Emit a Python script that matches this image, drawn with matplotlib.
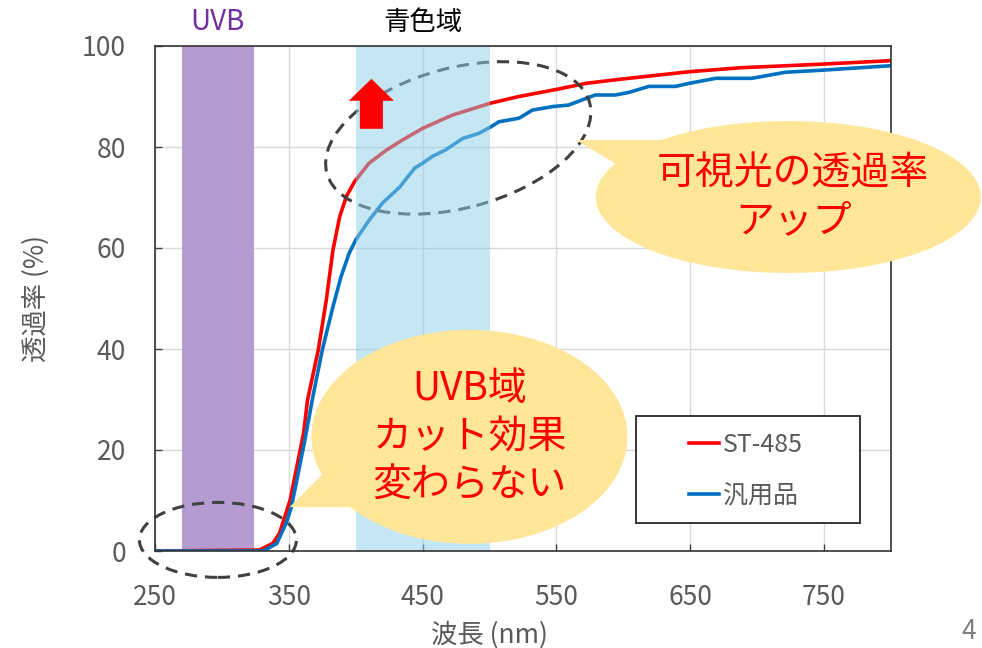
import matplotlib
matplotlib.use('Agg')
import matplotlib.pyplot as plt
from matplotlib.patches import Ellipse, Polygon, Rectangle, FancyArrowPatch, ArrowStyle
from matplotlib.transforms import IdentityTransform

plt.rcParams['font.family'] = ['Noto Sans CJK JP', 'DejaVu Sans']

# wavelength (nm) / transmittance (%)
st485_nm = [250, 328, 338, 343, 347, 351, 356, 361, 364, 372, 378, 383, 388, 393, 399,
            410, 423, 435, 450, 472, 501, 522, 550, 572, 597, 649, 688, 748, 800]
st485_pct = [0, 0.2, 1.5, 3.5, 6.8, 10.1, 16.7, 23.3, 29.9, 39.8, 49.7, 59.6, 66.2, 70.2, 73.1,
             76.8, 79.4, 81.4, 83.7, 86.3, 88.7, 90.0, 91.4, 92.6, 93.4, 94.9, 95.7, 96.4, 97.1]

generic_nm = [250, 331, 341, 348, 352, 357, 362, 368, 375, 383, 389, 395, 400, 410, 420, 433,
              444, 450, 457, 467, 480, 492, 501, 507, 522, 532, 547, 559, 572, 579, 594,
              604, 619, 639, 649, 669, 696, 721, 748, 800]
generic_pct = [0, 0, 1.5, 5.5, 8.8, 15.4, 22.0, 30.6, 39.8, 48.4, 54.3, 58.9, 61.6, 65.5, 68.9, 72.1,
               75.8, 76.8, 78.1, 79.4, 81.7, 82.7, 84.0, 85.0, 85.7, 87.3, 88.0, 88.3, 89.6, 90.3, 90.3,
               90.8, 92.0, 92.0, 92.6, 93.6, 93.6, 94.8, 95.2, 96.1]

series_names = ['ST-485', '汎用品']
series_colors = ['#FF0000', '#0070C0']
uvb_band = (270, 324)
blue_band = (400, 500)
x_ticks = [250, 350, 450, 550, 650, 750]
y_ticks = [0, 20, 40, 60, 80, 100]

W, H = 982, 648
fig = plt.figure(figsize=(W / 100, H / 100), dpi=100)
ax = fig.add_axes([155 / W, 97 / H, 736 / W, 505 / H])
ax.set_xlim(250, 800)
ax.set_ylim(0, 100)
ax.set_xticks(x_ticks)
ax.set_yticks(y_ticks)
ax.grid(color='#D9D9D9', lw=1)
ax.set_axisbelow(True)

ax.axvspan(*uvb_band, color='#B49BD0', lw=0, zorder=1)
ax.plot(st485_nm, st485_pct, color=series_colors[0], lw=2.6, label=series_names[0], zorder=2)
ax.plot(generic_nm, generic_pct, color=series_colors[1], lw=2.6, label=series_names[1], zorder=2)


def to_px(x, y):
    return ax.transData.transform((x, y))


# dashed ellipses (center in data, size in px)
for (cx, cy), w, h, ang in [((297, 2.2), 157, 75, 0), ((476.6, 81.8), 272, 140, 15)]:
    ax.add_patch(Ellipse(to_px(cx, cy), w, h, angle=ang, transform=IdentityTransform(),
                         fill=False, ec='#404040', lw=2.2, ls=(0, (4, 2.6)),
                         zorder=2.5, clip_on=False))

ax.axvspan(*blue_band, color='#8DD1EB', alpha=0.5, lw=0, zorder=3)

# speech bubbles
bubble_color = '#FFE699'
bubbles = [
    ((485, 22.6), 316, 214, [(350.6, 8.7), (384.1, 17.6), (410.2, 8.7)]),
    ((723.2, 70.1), 385, 152, [(564.5, 81.4), (633.8, 81.4), (611.5, 73.9)]),
]
for (cx, cy), w, h, tip in bubbles:
    ax.add_patch(Ellipse(to_px(cx, cy), w, h, transform=IdentityTransform(),
                         fc=bubble_color, ec='none', zorder=4, clip_on=False))
    ax.add_patch(Polygon([to_px(*p) for p in tip], closed=True, transform=IdentityTransform(),
                         fc=bubble_color, ec='none', zorder=4, clip_on=False))

ax.text(485, 22.6, 'UVB域\nカット効果\n変わらない', ha='center', va='center',
        fontsize=28, color='#FF0000', linespacing=1.25, zorder=5)
ax.text(727, 70.1, '可視光の透過率\nアップ', ha='center', va='center',
        fontsize=28, color='#FF0000', linespacing=1.25, zorder=5, clip_on=False)

ax.add_patch(FancyArrowPatch((411.7, 83.6), (411.7, 93.5),
                             arrowstyle=ArrowStyle.Simple(head_length=15.8, head_width=32.4, tail_width=16.6),
                             mutation_scale=1, color='#FF0000', lw=0, shrinkA=0, shrinkB=0, zorder=5))

# band labels above the plot
ax.text(sum(uvb_band) / 2, 1.047, 'UVB', transform=ax.get_xaxis_transform(),
        ha='center', va='center', fontsize=20, color='#7030A0')
ax.text(sum(blue_band) / 2, 1.047, '青色域', transform=ax.get_xaxis_transform(),
        ha='center', va='center', fontsize=19, color='#000000')

# legend
ax.add_patch(Rectangle((0.6535, 0.0554), 0.3043, 0.212, transform=ax.transAxes,
                       fc='white', ec='#262626', lw=1.3, zorder=6))
leg = ax.legend(frameon=False, loc='center', bbox_to_anchor=((746 - 155) / 736, (551 - 470) / 505),
                fontsize=18, handlelength=1.2, handletextpad=0.15, labelspacing=1.0,
                labelcolor='#595959', borderaxespad=0)
leg.set_zorder(7)

for s in ax.spines.values():
    s.set_color('#333333')
    s.set_linewidth(1.2)
    s.set_zorder(3.5)

ax.tick_params(direction='in', length=5, width=1, color='#404040',
               labelsize=19, labelcolor='#595959')
ax.tick_params(axis='x', pad=24)
ax.tick_params(axis='y', pad=21)

ax.set_xlabel('波長 (nm)', fontsize=19, color='#595959', va='center')
ax.xaxis.set_label_coords(0.4538, -0.166)
ax.set_ylabel('透過率 (%)', fontsize=19, color='#595959', va='center')
ax.yaxis.set_label_coords(-0.1617, 0.5)

fig.text(962 / W, 3 / H, '4', ha='left', va='bottom', fontsize=19, color='#7F7F7F')

fig.savefig('out.png', dpi=100)
